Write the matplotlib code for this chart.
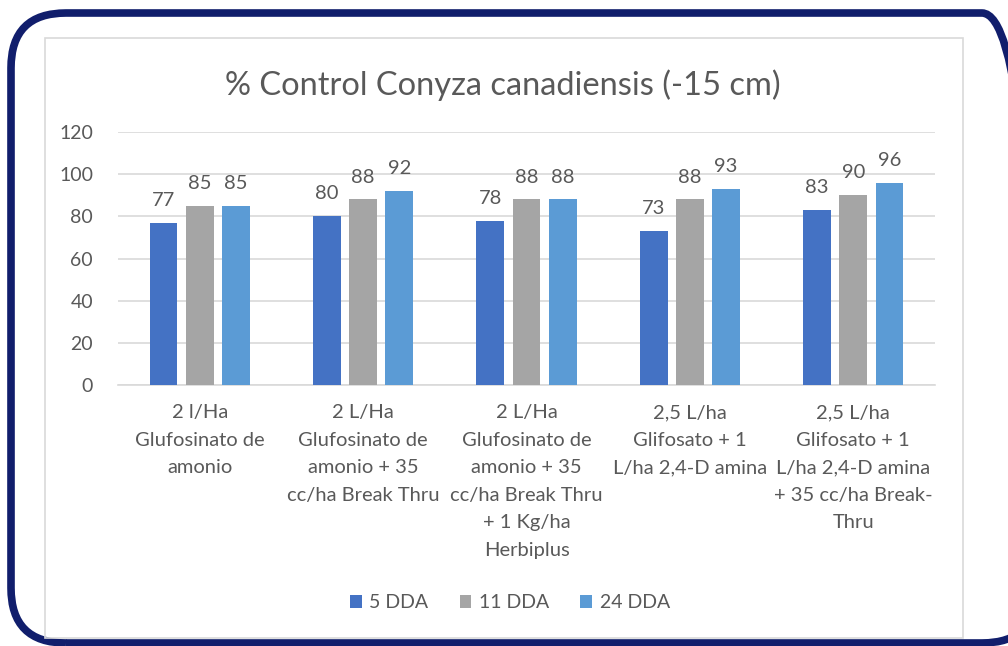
import matplotlib
matplotlib.use("Agg")
import matplotlib.pyplot as plt
import numpy as np
from matplotlib.patches import FancyBboxPatch, Rectangle, Patch
from matplotlib.transforms import IdentityTransform

# data
categories = [
    "2 l/Ha\nGlufosinato de\namonio",
    "2 L/Ha\nGlufosinato de\namonio + 35\ncc/ha Break Thru",
    "2 L/Ha\nGlufosinato de\namonio + 35\ncc/ha Break Thru\n+ 1 Kg/ha\nHerbiplus",
    "2,5 L/ha\nGlifosato + 1\nL/ha 2,4-D amina",
    "2,5 L/ha\nGlifosato + 1\nL/ha 2,4-D amina\n+ 35 cc/ha Break-\nThru",
]
series_names = ["5 DDA", "11 DDA", "24 DDA"]
dda5 = [77, 80, 78, 73, 83]
dda11 = [85, 88, 88, 88, 90]
dda24 = [85, 92, 88, 93, 96]
yticks = [0, 20, 40, 60, 80, 100, 120]

colors = ["#4472C4", "#A5A5A5", "#5B9BD5"]
txt = "#595959"
plt.rcParams["font.family"] = ["Lato", "DejaVu Sans"]

fig = plt.figure(figsize=(10.08, 6.46), dpi=100)

# outer navy frame in pixels (right side runs just off the image)
frame = FancyBboxPatch((11, 3), 1026, 630,
                       boxstyle="round,pad=0,rounding_size=55",
                       transform=IdentityTransform(), fill=False,
                       edgecolor="#111E6C", linewidth=5.5, zorder=0)
fig.patches.append(frame)
# inner grey chart border
border = Rectangle((45 / 1008, 1 - 638 / 646), 918 / 1008, 600 / 646,
                   transform=fig.transFigure, fill=False,
                   edgecolor="#D9D9D9", linewidth=1.2, zorder=0)
fig.patches.append(border)

ax = fig.add_axes([118 / 1008, 1 - 385 / 646, 817 / 1008, 253 / 646])

x = np.arange(len(categories))
w = 0.17
off = 0.222
for i, (vals, c, name) in enumerate(zip([dda5, dda11, dda24], colors, series_names)):
    pos = x + (i - 1) * off
    ax.bar(pos, vals, width=w, color=c, label=name, zorder=3)
    for p, v in zip(pos, vals):
        ax.text(p, v + 8, f"{v}", ha="center", va="baseline",
                fontsize=14.5, color=txt)

ax.set_xlim(-0.5, len(categories) - 0.5)
ax.set_ylim(0, 120)
ax.set_yticks(yticks)
ax.yaxis.grid(True, color="#D9D9D9", linewidth=1.2, zorder=0)
for s in ["top", "right", "left"]:
    ax.spines[s].set_visible(False)
ax.spines["bottom"].set_color("#D9D9D9")
ax.spines["bottom"].set_linewidth(1.2)
ax.tick_params(axis="y", length=0, pad=18, labelsize=14, labelcolor=txt)
ax.tick_params(axis="x", length=0, pad=14, labelsize=14.5, labelcolor=txt)
ax.set_xticks(x)
ax.set_xticklabels(categories, linespacing=1.75)

fig.text(503 / 1008, 1 - 85 / 646, "% Control Conyza canadiensis (-15 cm)",
         ha="center", va="center", fontsize=23.5, color=txt)

handles = [Patch(facecolor=c, label=n) for c, n in zip(colors, series_names)]
fig.legend(handles=handles, loc="center", bbox_to_anchor=(510 / 1008, 1 - 603 / 646),
           ncol=3, frameon=False, fontsize=14, labelcolor=txt,
           handlelength=0.6, handleheight=0.6, handletextpad=0.4, columnspacing=1.6)

fig.savefig("out.png", dpi=100)
